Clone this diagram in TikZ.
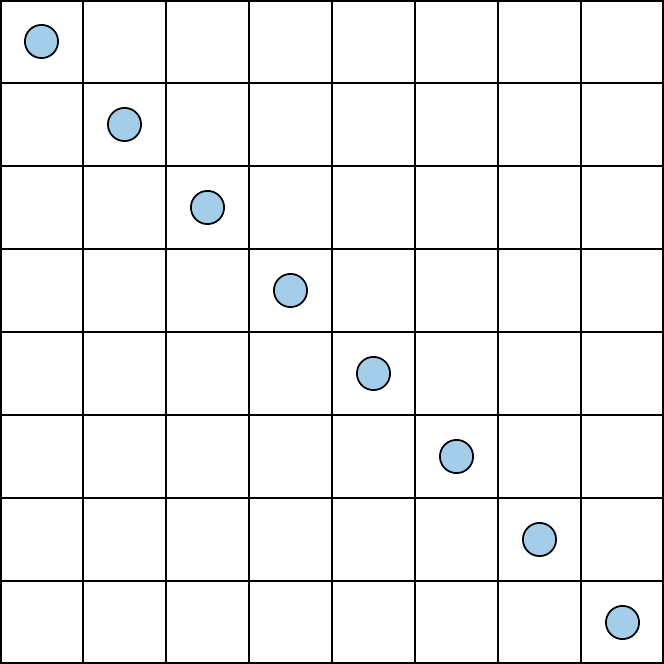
\documentclass[tikz,border=0pt]{standalone}
\definecolor{dotblue}{RGB}{164,205,234}
\tikzset{
  gridline/.style={line width=0.45pt, black},
  frameline/.style={line width=1.1pt, black},
  dot/.style={circle, draw=black, line width=0.6pt, fill=dotblue, minimum size=0.4cm, inner sep=0pt}
}
\begin{document}
\begin{tikzpicture}
\useasboundingbox (0,0) rectangle (8,8);
\foreach \i in {1,...,7} {
  \draw[gridline] (\i,0) -- (\i,8);
  \draw[gridline] (0,\i) -- (8,\i);
}
\draw[frameline] (0,0) rectangle (8,8);
\foreach \k in {1,...,8} {
  \node[dot] (c\k) at ({\k-0.5},{8.5-\k}) {};
}
\end{tikzpicture}
\end{document}
